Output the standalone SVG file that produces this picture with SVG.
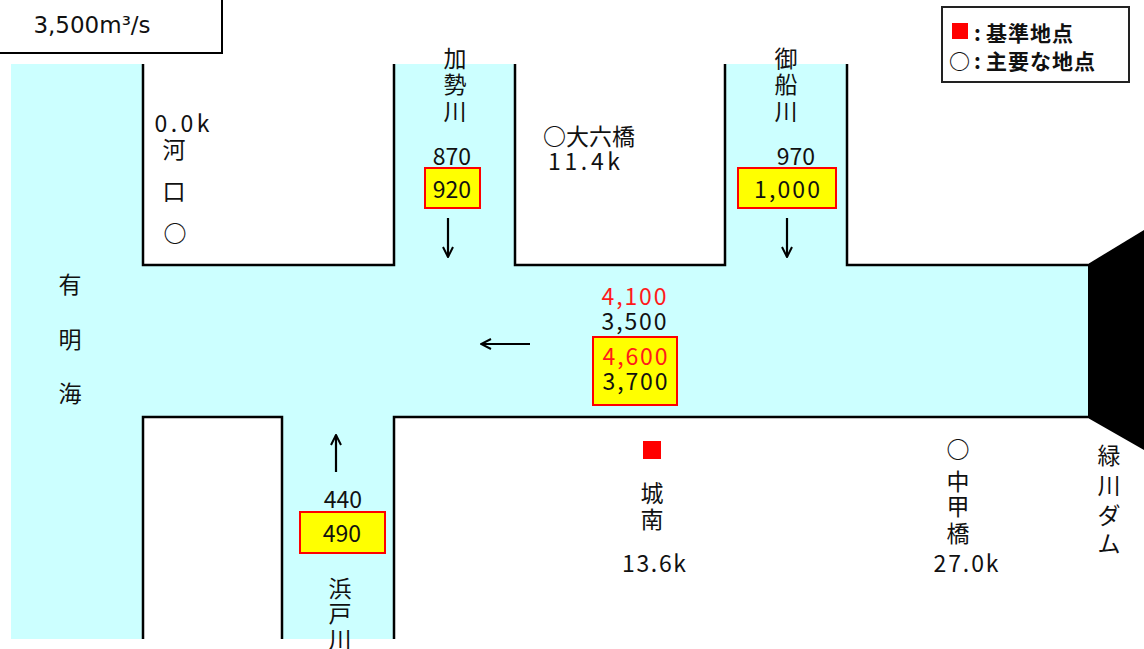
<svg xmlns="http://www.w3.org/2000/svg" width="1144" height="649" viewBox="0 0 1144 649">
<defs>
<style>
.w{fill:#CCFFFF;stroke:none}
.bank{fill:none;stroke:#000;stroke-width:2.5}
.t{font-family:"Noto Sans CJK JP","DejaVu Sans",sans-serif;font-size:23px;fill:#111;text-anchor:middle;dominant-baseline:central}
.o{font-weight:bold}
.r{fill:#FF1A1A}
.box{fill:#FFFF00;stroke:#FF0000;stroke-width:2}
.arr{fill:none;stroke:#000;stroke-width:2.2}
.lg{font-family:"Noto Sans CJK JP","DejaVu Sans",sans-serif;font-size:21px;font-weight:bold;fill:#111;dominant-baseline:central;letter-spacing:1px}
</style>
<marker id="ah" viewBox="0 0 12 12" refX="11" refY="6" markerWidth="12" markerHeight="12" markerUnits="userSpaceOnUse" orient="auto">
<path d="M1,1 L11,6 L1,11" fill="none" stroke="#000" stroke-width="2"/>
</marker>
</defs>
<rect width="1144" height="649" fill="#fff"/>

<g id="water">
<rect class="w" x="11" y="64" width="132" height="575"/>
<rect class="w" x="143" y="265" width="945" height="152"/>
<rect class="w" x="394" y="64" width="121" height="201"/>
<rect class="w" x="725" y="64" width="122" height="201"/>
<rect class="w" x="282" y="417" width="112" height="222"/>
</g>

<g id="banks">
<polyline class="bank" points="143,64 143,265 394,265 394,64"/>
<polyline class="bank" points="515,64 515,265 725,265 725,64"/>
<polyline class="bank" points="847,64 847,265 1088,265"/>
<polyline class="bank" points="143,639 143,417 282,417 282,639"/>
<polyline class="bank" points="394,639 394,417 1088,417"/>
</g>

<g id="title">
<rect x="-3" y="-3" width="225" height="56" fill="#fff" stroke="#000" stroke-width="2"/>
<text x="92" y="25" font-family="DejaVu Sans,Verdana,sans-serif" font-size="23" fill="#111" text-anchor="middle" dominant-baseline="central">3,500m³/s</text>
</g>

<g id="legend">
<rect x="942" y="7" width="187" height="75" fill="#fff" stroke="#222" stroke-width="2"/>
<rect x="952" y="23" width="16" height="16" fill="#FF0000"/>
<text class="lg" x="974" y="32">:<tspan x="986">基準地点</tspan></text>
<text class="lg" x="949" y="60">○<tspan x="974">:</tspan><tspan x="986">主要な地点</tspan></text>
</g>

<g id="ariake">
<text class="t" x="70" y="283">有</text>
<text class="t" x="70" y="338">明</text>
<text class="t" x="70" y="392">海</text>
</g>

<g id="kako">
<text class="t" x="182" y="122" textLength="55" lengthAdjust="spacing">0.0k</text>
<text class="t" x="174" y="148">河</text>
<text class="t" x="174" y="190">口</text>
<text class="t o" x="175" y="232">○</text>
</g>

<g id="kasegawa">
<text class="t" x="455" y="57">加</text>
<text class="t" x="455" y="83">勢</text>
<text class="t" x="455" y="110">川</text>
<text class="t" x="452" y="155">870</text>
<rect class="box" x="425" y="168" width="55" height="40"/>
<text class="t" x="452" y="188">920</text>
</g>

<g id="omutsu">
<text class="t" x="589" y="135"><tspan class="o">○</tspan>大六橋</text>
<text class="t" x="584" y="160" textLength="72" lengthAdjust="spacing">11.4k</text>
</g>

<g id="mifunegawa">
<text class="t" x="786" y="57">御</text>
<text class="t" x="786" y="83">船</text>
<text class="t" x="786" y="110">川</text>
<text class="t" x="796" y="155">970</text>
<rect class="box" x="738" y="168" width="98" height="40"/>
<text class="t" x="787" y="188" textLength="66" lengthAdjust="spacing">1,000</text>
</g>

<g id="main-flow">
<text class="t r" x="634" y="295" textLength="65" lengthAdjust="spacing">4,100</text>
<text class="t" x="634" y="320" textLength="65" lengthAdjust="spacing">3,500</text>
<rect class="box" x="593" y="337" width="84" height="68"/>
<text class="t r" x="635" y="355" textLength="65" lengthAdjust="spacing">4,600</text>
<text class="t" x="635" y="380" textLength="65" lengthAdjust="spacing">3,700</text>
</g>

<g id="jonan">
<rect x="643" y="441" width="18" height="18" fill="#FF0000"/>
<text class="t" x="652" y="492">城</text>
<text class="t" x="652" y="518">南</text>
<text class="t" x="654" y="562" textLength="64" lengthAdjust="spacing">13.6k</text>
</g>

<g id="nakagobashi">
<text class="t o" x="958" y="448">○</text>
<text class="t" x="958" y="480">中</text>
<text class="t" x="958" y="505">甲</text>
<text class="t" x="958" y="532">橋</text>
<text class="t" x="966" y="562" textLength="65" lengthAdjust="spacing">27.0k</text>
</g>

<g id="hamadogawa">
<text class="t" x="343" y="498">440</text>
<rect class="box" x="300" y="512" width="85" height="41"/>
<text class="t" x="342" y="532">490</text>
<text class="t" x="340" y="587">浜</text>
<text class="t" x="340" y="612">戸</text>
<text class="t" x="340" y="638">川</text>
</g>

<g id="midorikawa-dam">
<polygon points="1088,264 1144,230 1144,450 1088,418" fill="#000"/>
<text class="t" x="1109" y="454">緑</text>
<text class="t" x="1109" y="484">川</text>
<text class="t" x="1109" y="514">ダ</text>
<text class="t" x="1109" y="542">ム</text>
</g>

<g id="connectors">
<line class="arr" x1="448" y1="218" x2="448" y2="257" marker-end="url(#ah)"/>
<line class="arr" x1="787" y1="218" x2="787" y2="257" marker-end="url(#ah)"/>
<line class="arr" x1="530" y1="344" x2="481" y2="344" marker-end="url(#ah)"/>
<line class="arr" x1="336" y1="472" x2="336" y2="435" marker-end="url(#ah)"/>
</g>
</svg>
